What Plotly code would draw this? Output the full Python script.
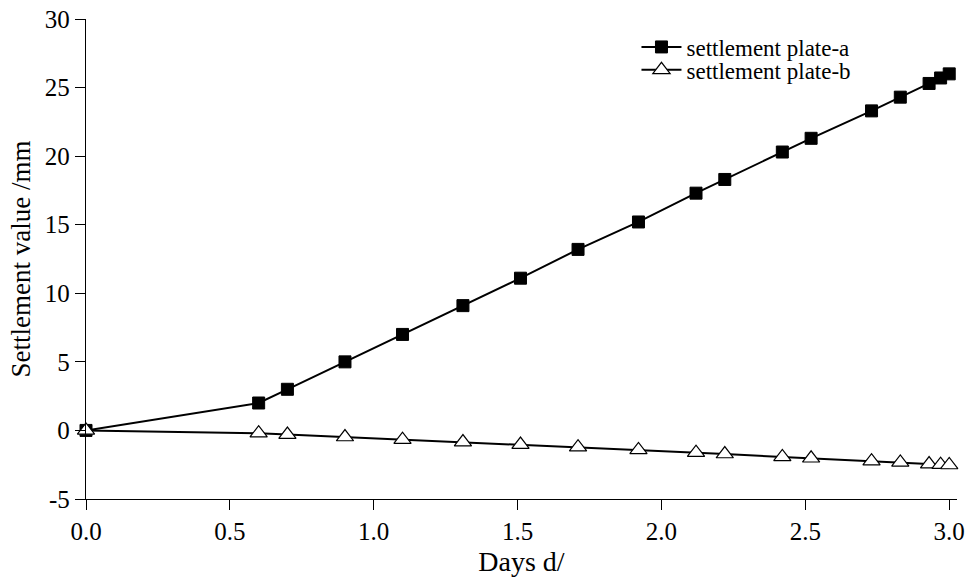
import plotly.graph_objects as go

days = [0, 0.6, 0.7, 0.9, 1.1, 1.31, 1.51, 1.71, 1.92, 2.12, 2.22, 2.42, 2.52, 2.73, 2.83, 2.93, 2.97, 3.0]
plate_a = [0, 2.0, 3.0, 5.0, 7.0, 9.1, 11.1, 13.2, 15.2, 17.3, 18.3, 20.3, 21.3, 23.3, 24.3, 25.3, 25.7, 26.0]
plate_b = [0, -0.2, -0.3, -0.48, -0.67, -0.85, -1.03, -1.22, -1.42, -1.62, -1.72, -1.93, -2.03, -2.24, -2.33, -2.45, -2.5, -2.52]
x_ticks = [0, 0.5, 1.0, 1.5, 2.0, 2.5, 3.0]
x_tick_text = ["0.0", "0.5", "1.0", "1.5", "2.0", "2.5", "3.0"]
y_ticks = [-5, 0, 5, 10, 15, 20, 25, 30]
y_tick_text = ["-5", "0", "5", "10", "15", "20", "25", "30"]

FONT = "Liberation Serif"

fig = go.Figure()
fig.add_trace(go.Scatter(
    x=days, y=plate_a, mode="lines+markers", name="settlement plate-a",
    line=dict(color="black", width=2),
    marker=dict(symbol="square", size=12, color="black", line=dict(color="black", width=1)),
    cliponaxis=False, legend="legend",
))
fig.add_trace(go.Scatter(
    x=days, y=plate_b, mode="lines+markers", name="settlement plate-b",
    line=dict(color="black", width=2),
    marker=dict(symbol="triangle-up", size=15, color="white", line=dict(color="black", width=1.2)),
    cliponaxis=False, legend="legend2",
))

leg_common = dict(xanchor="left", yanchor="middle", bgcolor="rgba(0,0,0,0)",
                  font=dict(family=FONT, size=23, color="black"), itemwidth=40)

fig.update_layout(
    width=966, height=577,
    paper_bgcolor="white", plot_bgcolor="white",
    margin=dict(l=86, r=9, t=19, b=78),
    font=dict(family=FONT, color="black", size=25),
    showlegend=True,
    legend=dict(x=0.632, y=0.9417, **leg_common),
    legend2=dict(x=0.632, y=0.894, **leg_common),
    xaxis=dict(range=[0, 3.027], tickvals=x_ticks, ticktext=x_tick_text,
               showline=True, linecolor="black", linewidth=1.3,
               ticks="outside", ticklen=10, tickcolor="black", tickwidth=1.3,
               showgrid=False, zeroline=False, automargin=False, ticklabeloverflow="allow",
               title=dict(text="Days d/", font=dict(family=FONT, size=28), standoff=12),
               tickfont=dict(family=FONT, size=25)),
    yaxis=dict(range=[-5, 30], tickvals=y_ticks, ticktext=y_tick_text,
               showline=True, linecolor="black", linewidth=1.3,
               ticks="outside", ticklen=10, tickcolor="black", tickwidth=1.3,
               showgrid=False, zeroline=False, automargin=False, ticklabeloverflow="allow",
               title=dict(text="Settlement value /mm", font=dict(family=FONT, size=27), standoff=6),
               tickfont=dict(family=FONT, size=25)),
)

fig.write_html("out.html", config={"displayModeBar": False},
               post_script="document.body.style.margin='0';")
